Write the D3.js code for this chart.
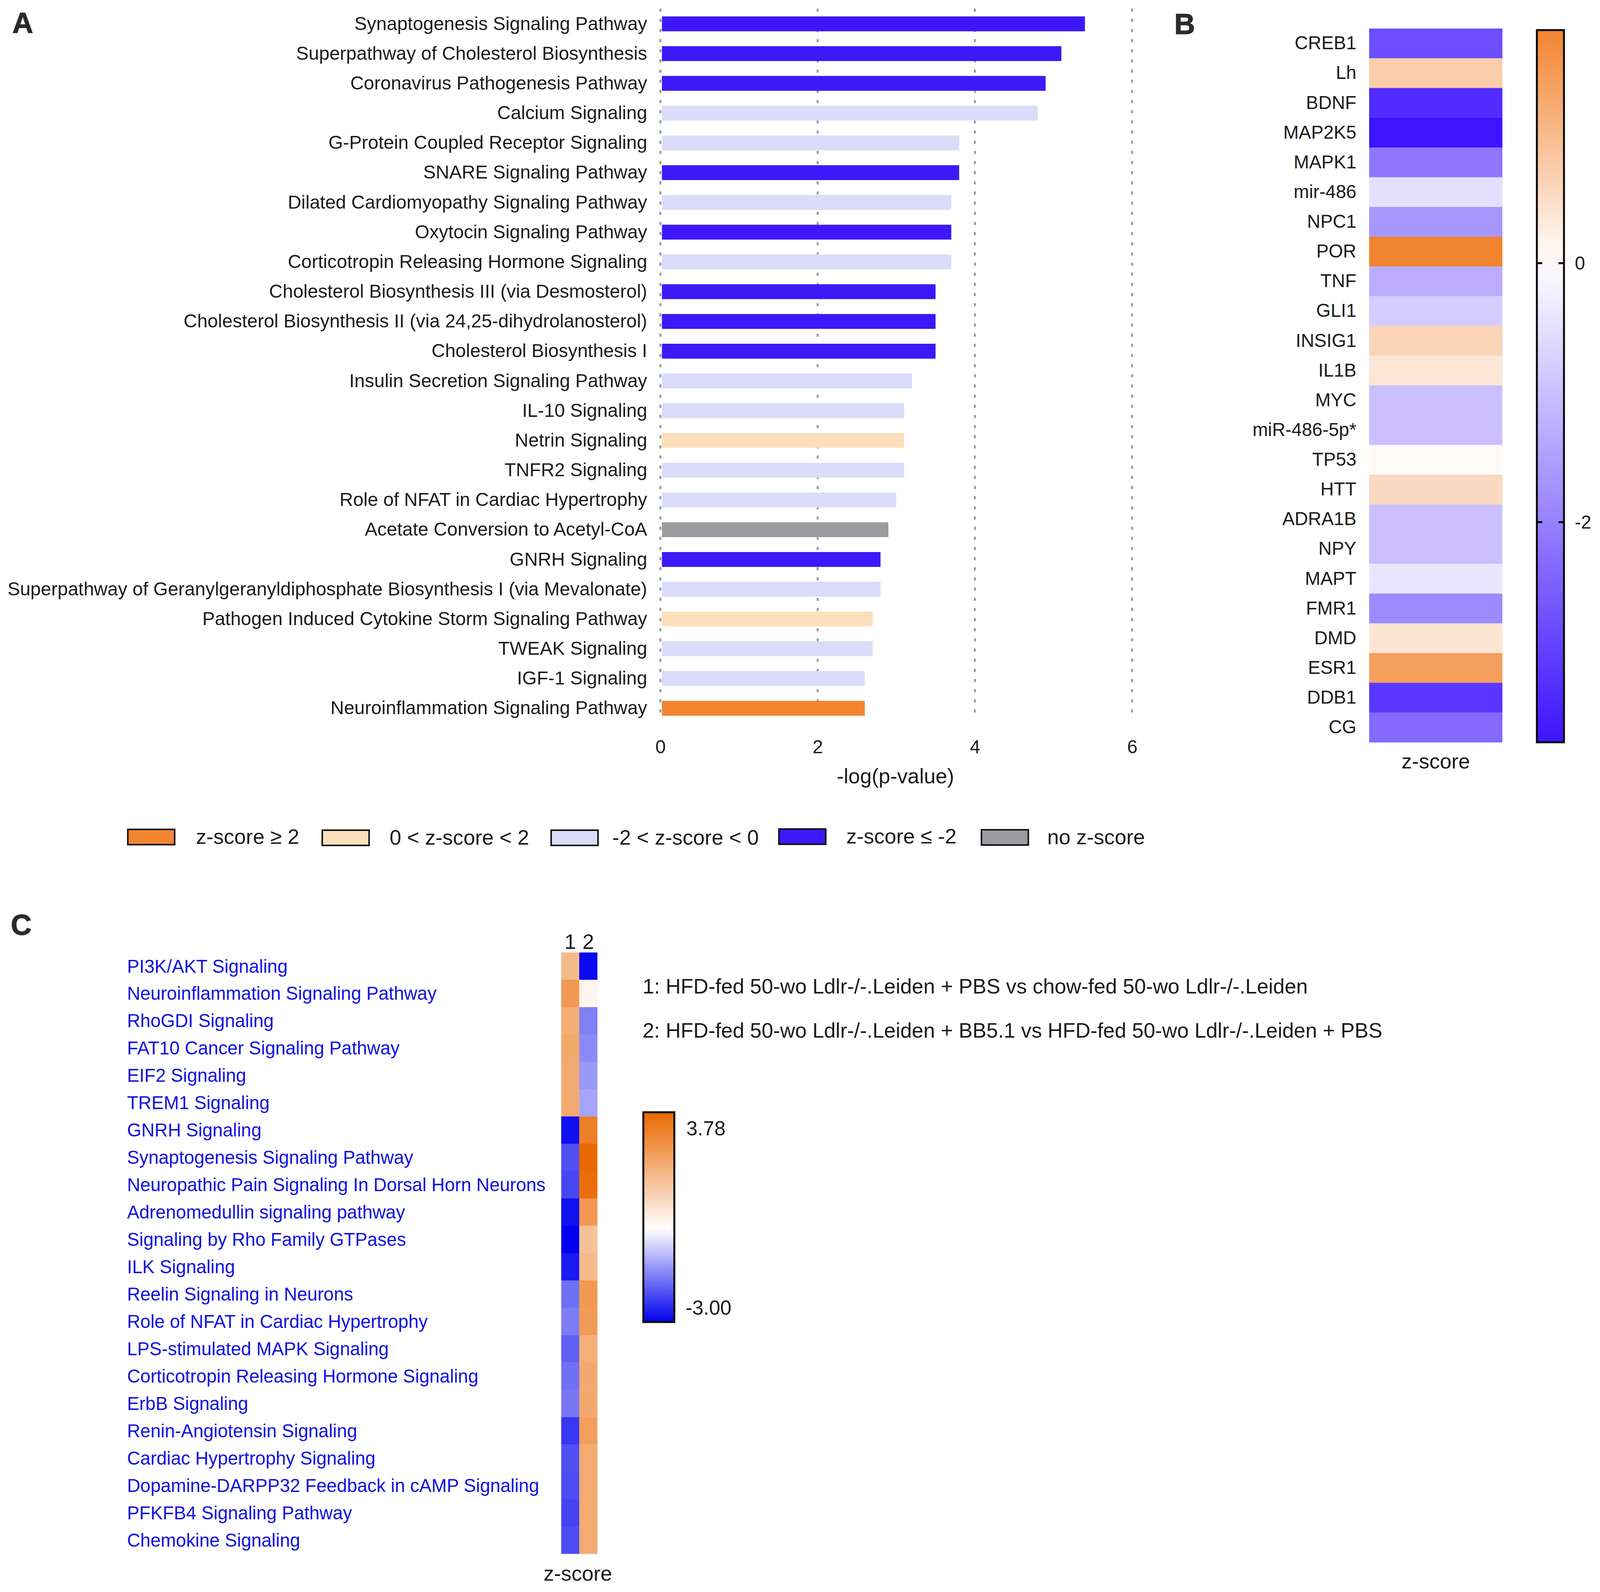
<!DOCTYPE html>
<html lang="en">
<head>
<meta charset="utf-8">
<title>Pathway analysis panels</title>
<script src="https://d3js.org/d3.v7.min.js"></script>
<style>
  html, body { margin: 0; background: #fff; overflow: hidden; }
  svg { display: block; }
  text { font-family: "Liberation Sans", Arial, sans-serif; fill: #1a1a1a; }
  .panel { font-size: 74px; font-weight: bold; fill: #2b2b2b; stroke: #2b2b2b; stroke-width: 1.5px; }
  .domain { display: none; }
</style>
</head>
<body>
<div id="chart"></div>
<script>
// panel A
const pathways = ["Synaptogenesis Signaling Pathway","Superpathway of Cholesterol Biosynthesis","Coronavirus Pathogenesis Pathway","Calcium Signaling","G-Protein Coupled Receptor Signaling","SNARE Signaling Pathway","Dilated Cardiomyopathy Signaling Pathway","Oxytocin Signaling Pathway","Corticotropin Releasing Hormone Signaling","Cholesterol Biosynthesis III (via Desmosterol)","Cholesterol Biosynthesis II (via 24,25-dihydrolanosterol)","Cholesterol Biosynthesis I","Insulin Secretion Signaling Pathway","IL-10 Signaling","Netrin Signaling","TNFR2 Signaling","Role of NFAT in Cardiac Hypertrophy","Acetate Conversion to Acetyl-CoA","GNRH Signaling","Superpathway of Geranylgeranyldiphosphate Biosynthesis I (via Mevalonate)","Pathogen Induced Cytokine Storm Signaling Pathway","TWEAK Signaling","IGF-1 Signaling","Neuroinflammation Signaling Pathway"];
const logP = [5.4,5.1,4.9,4.8,3.8,3.8,3.7,3.7,3.7,3.5,3.5,3.5,3.2,3.1,3.1,3.1,3.0,2.9,2.8,2.8,2.7,2.7,2.6,2.6];
const zClass = ["low","low","low","neg","neg","low","neg","low","neg","low","low","low","neg","neg","pos","neg","neg","none","low","neg","pos","neg","neg","high"];
const classKeys = ["high","pos","neg","low","none"];
const classLabels = ["z-score ≥ 2","0 < z-score < 2","-2 < z-score < 0","z-score ≤ -2","no z-score"];
const classColors = ["#f28530","#fbdfba","#dadcfa","#3e18f8","#9c9ca0"];
const xTicks = [0,2,4,6];

// panel B
const genes = ["CREB1","Lh","BDNF","MAP2K5","MAPK1","mir-486","NPC1","POR","TNF","GLI1","INSIG1","IL1B","MYC","miR-486-5p*","TP53","HTT","ADRA1B","NPY","MAPT","FMR1","DMD","ESR1","DDB1","CG"];
const geneZ = [-2.8,0.73,-3.3,-3.7,-2.15,-0.5,-1.65,1.8,-1.3,-0.8,0.62,0.36,-1.0,-1.0,0.07,0.55,-1.0,-1.0,-0.4,-1.85,0.38,1.4,-3.15,-2.35];
const geneTicks = [0,-2];

// panel C
const canonical = ["PI3K/AKT Signaling","Neuroinflammation Signaling Pathway","RhoGDI Signaling","FAT10 Cancer Signaling Pathway","EIF2 Signaling","TREM1 Signaling","GNRH Signaling","Synaptogenesis Signaling Pathway","Neuropathic Pain Signaling In Dorsal Horn Neurons","Adrenomedullin signaling pathway","Signaling by Rho Family GTPases","ILK Signaling","Reelin Signaling in Neurons","Role of NFAT in Cardiac Hypertrophy","LPS-stimulated MAPK Signaling","Corticotropin Releasing Hormone Signaling","ErbB Signaling","Renin-Angiotensin Signaling","Cardiac Hypertrophy Signaling","Dopamine-DARPP32 Feedback in cAMP Signaling","PFKFB4 Signaling Pathway","Chemokine Signaling"];
const contrast1 = [1.72,2.56,2.05,2.18,2.12,2.12,-2.82,-2.06,-2.15,-2.8,-3,-2.7,-1.68,-1.53,-1.87,-1.68,-1.6,-2.34,-2.06,-2.1,-2.2,-2.1];
const contrast2 = [-2.9,0.25,-1.5,-1.37,-1.2,-1.06,3.2,3.78,3.65,2.55,1.55,1.72,2.56,2.5,2.0,2.15,2.15,2.4,2.1,2.1,2.1,2.1];
const contrasts = ["1","2"];
const contrastNotes = ["1: HFD-fed 50-wo Ldlr-/-.Leiden + PBS vs chow-fed 50-wo Ldlr-/-.Leiden","2: HFD-fed 50-wo Ldlr-/-.Leiden + BB5.1 vs HFD-fed 50-wo Ldlr-/-.Leiden + PBS"];

const width = 4131, height = 4075;
const fsA = 48.4, fsB = 47.8, fsC = 47.3, fsBig = 54;

// the browser window tops out at 4096 wide, so fit the 4131 layout into it
const svg = d3.select("#chart").append("svg")
    .attr("viewBox", `0 0 ${width} ${height}`)
    .attr("preserveAspectRatio", "none")
    .style("width", "100vw").style("height", "100vh");
const defs = svg.append("defs");

function panelLetter(s, x, y) {
  svg.append("text").attr("class", "panel").attr("x", x).attr("y", y).text(s);
}
panelLetter("A", 32, 84);
panelLetter("B", 3032, 87);
panelLetter("C", 28, 2393);

// ---- A: bars
const xA = d3.scaleLinear().domain([0, 6]).range([1705, 2923]);
const yA = d3.scaleBand().domain(pathways).range([23, 1851]).paddingInner(0.5).paddingOuter(0.25);
const classColor = d3.scaleOrdinal(classKeys, classColors);

svg.append("g").selectAll("line").data(xTicks).join("line")
    .attr("x1", d => xA(d)).attr("x2", d => xA(d))
    .attr("y1", 22).attr("y2", 1832)
    .attr("stroke", "#9b9b9b").attr("stroke-width", 5)
    .attr("stroke-dasharray", "8 18");

svg.append("g").selectAll("rect")
  .data(pathways.map((p, i) => ({p, v: logP[i], c: zClass[i]})))
  .join("rect")
    .attr("x", xA(0) + 4)
    .attr("y", d => yA(d.p))
    .attr("width", d => xA(d.v) - xA(0) - 4)
    .attr("height", yA.bandwidth())
    .attr("fill", d => classColor(d.c));

svg.append("g")
    .attr("transform", "translate(1671,0)")
    .call(d3.axisLeft(yA).tickSize(0).tickPadding(0))
    .call(g => g.selectAll("text").attr("font-size", fsA).style("font-family", null));

svg.append("g")
    .attr("transform", "translate(0,1894)")
    .call(d3.axisBottom(xA).tickValues(xTicks).tickFormat(d3.format("d")).tickSize(0).tickPadding(0))
    .call(g => g.selectAll("text").attr("font-size", fsA).attr("dy", "0.71em").style("font-family", null));

svg.append("text").attr("x", 2312).attr("y", 2005).attr("font-size", fsBig)
    .attr("text-anchor", "middle").text("-log(p-value)");

// legend
const legendX = [328, 830, 1421, 2009, 2532];
const legendY = [2121, 2123, 2123, 2120, 2122];
const legendTextX = [506, 1006, 1581, 2185, 2704];
const legend = svg.append("g").selectAll("g").data(classKeys).join("g");
legend.append("rect")
    .attr("x", (d, i) => legendX[i] + 2).attr("y", (d, i) => legendY[i] + 2)
    .attr("width", 121).attr("height", 39)
    .attr("fill", d => classColor(d)).attr("stroke", "#111").attr("stroke-width", 4);
legend.append("text")
    .attr("x", (d, i) => legendTextX[i]).attr("y", (d, i) => legendY[i] + 20)
    .attr("dy", "0.35em").attr("font-size", fsBig)
    .text((d, i) => classLabels[i]);

// ---- B: single-column heatmap
const yB = d3.scaleBand().domain(genes).range([73, 1900]);
const colorB = d3.scaleLinear().domain([-3.7, 0, 1.8]).range(["#3d14ff", "#ffffff", "#f28430"]);

svg.append("g").selectAll("rect").data(genes).join("rect")
    .attr("x", 3535).attr("width", 344)
    .attr("y", d => yB(d)).attr("height", yB.bandwidth() + 0.5)
    .attr("fill", (d, i) => colorB(geneZ[i]));

svg.append("g")
    .attr("transform", "translate(3502,0)")
    .call(d3.axisLeft(yB).tickSize(0).tickPadding(0))
    .call(g => g.selectAll("text").attr("font-size", fsB).style("font-family", null));

svg.append("text").attr("x", 3707).attr("y", 1967).attr("font-size", fsBig)
    .attr("text-anchor", "middle").text("z-score");

function colorBar(id, scale, x, y, w, h) {
  const dom = scale.domain();
  const stops = d3.range(0, 21).map(i => i / 20);
  const lo = dom[0], hi = dom[dom.length - 1];
  defs.append("linearGradient").attr("id", id)
      .attr("x1", 0).attr("x2", 0).attr("y1", 1).attr("y2", 0)
    .selectAll("stop").data(stops).join("stop")
      .attr("offset", d => d)
      .attr("stop-color", d => scale(lo + d * (hi - lo)));
  svg.append("rect").attr("x", x).attr("y", y).attr("width", w).attr("height", h)
      .attr("fill", `url(#${id})`).attr("stroke", "#0a0a0a").attr("stroke-width", 5);
}

colorBar("barB", colorB, 3968, 77, 70, 1823);
const yBar = d3.scaleLinear().domain([-3.7, 1.8]).range([1900, 77]);
const barTicks = svg.append("g").selectAll("g").data(geneTicks).join("g")
    .attr("transform", d => `translate(0,${yBar(d)})`);
barTicks.append("line").attr("x1", 3968).attr("x2", 3982).attr("stroke", "#0a0a0a").attr("stroke-width", 5);
barTicks.append("line").attr("x1", 4024).attr("x2", 4038).attr("stroke", "#0a0a0a").attr("stroke-width", 5);
barTicks.append("text").attr("x", 4066).attr("dy", "0.35em").attr("font-size", fsB).text(d => d);

// ---- C: two-column heatmap
const yC = d3.scaleBand().domain(canonical).range([2438, 3977]);
const xC = d3.scaleBand().domain(contrasts).range([1449, 1542]);
const colorC = d3.scaleLinear().domain([-3, 0, 3.78]).range(["#0000ee", "#ffffff", "#ea6800"]);
const cells = contrasts.flatMap((c, j) => canonical.map((p, i) => ({p, c, v: (j ? contrast2 : contrast1)[i]})));

svg.append("g").selectAll("rect").data(cells).join("rect")
    .attr("x", d => xC(d.c)).attr("width", xC.bandwidth() + 0.5)
    .attr("y", d => yC(d.p)).attr("height", yC.bandwidth() + 0.5)
    .attr("fill", d => colorC(d.v));

svg.append("g").selectAll("text").data(canonical).join("text")
    .attr("x", 328).attr("y", d => yC(d) + yC.bandwidth() / 2)
    .attr("dy", "0.35em").attr("font-size", fsC)
    .style("fill", "#1212e0").text(d => d);

svg.append("g").selectAll("text").data(contrasts).join("text")
    .attr("x", d => xC(d) + xC.bandwidth() / 2).attr("y", 2429)
    .attr("text-anchor", "middle").attr("font-size", fsBig).text(d => d);

svg.append("text").attr("x", 1492).attr("y", 4046).attr("font-size", fsBig)
    .attr("text-anchor", "middle").text("z-score");

svg.append("g").selectAll("text").data(contrastNotes).join("text")
    .attr("x", 1659).attr("y", (d, i) => 2524 + i * 113)
    .attr("dy", "0.35em").attr("font-size", 53.7).text(d => d);

colorBar("barC", colorC, 1661, 2847, 80, 537);
svg.append("text").attr("x", 1772).attr("y", 2888).attr("dy", "0.35em").attr("font-size", 52).text("3.78");
svg.append("text").attr("x", 1770).attr("y", 3347).attr("dy", "0.35em").attr("font-size", 52).text("-3.00");
</script>
</body>
</html>
